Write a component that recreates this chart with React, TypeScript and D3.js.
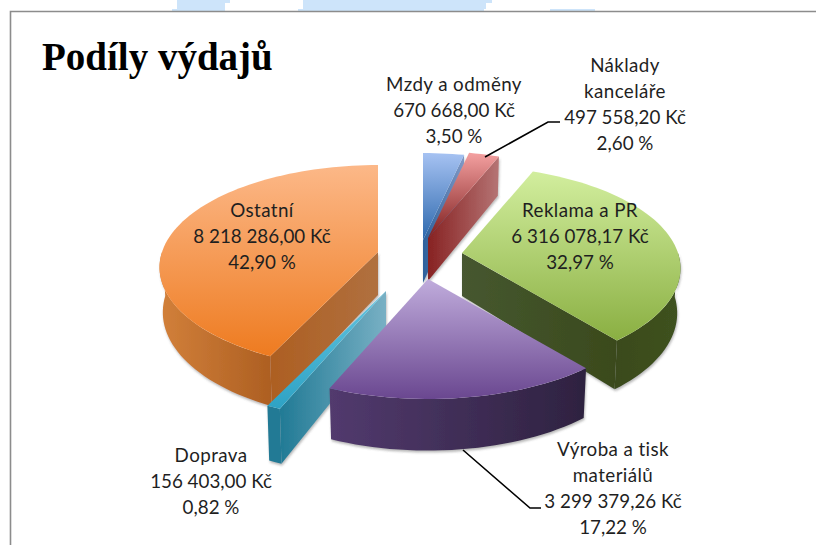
import React from "react";
import * as d3 from "d3";

const categories = ["Mzdy a odměny", "Náklady kanceláře", "Reklama a PR", "Výroba a tisk materiálů", "Doprava", "Ostatní"];
const values = [670668.0, 497558.2, 6316078.17, 3299379.26, 156403.0, 8218286.0];
const amountLabels = ["670 668,00 Kč", "497 558,20 Kč", "6 316 078,17 Kč", "3 299 379,26 Kč", "156 403,00 Kč", "8 218 286,00 Kč"];
const percentLabels = ["3,50 %", "2,60 %", "32,97 %", "17,22 %", "0,82 %", "42,90 %"];
const title = "Podíly výdajů";

// layout of each exploded slice (apex of the top face, perspective scale) and of its label
const apexes = [[423, 240], [428, 238], [462, 253], [428, 279], [386, 291], [378, 252]];
const scales = [1, 1, 1, 1.02, 1.1, 1];
const labelLines = [
  ["Mzdy a odměny"],
  ["Náklady", "kanceláře"],
  ["Reklama a PR"],
  ["Výroba a tisk", "materiálů"],
  ["Doprava"],
  ["Ostatní"],
];
const labelPos = [[454, 84], [625, 65], [580, 210], [613, 449], [211, 455], [262, 210]];
const topColors = [["#a6c2f2", "#2c68ad"], ["#f4a0a0", "#7e1e1e"], ["#d2ee9e", "#8aaf42"], ["#c0acdc", "#6a4790"], ["#62c4e0", "#2ea2c4"], ["#fcb888", "#ee7b20"]];
const wallColors = [["#2c609c", "#7f98c4"], ["#872222", "#b57474"], ["#465730", "#3a4a1c"], ["#523a6e", "#2e2240"], ["#217a95", "#78b0c4"], ["#ad5f22", "#b0703f"]];
const arcWallColors = [["#2c609c", "#2c609c"], ["#872222", "#872222"], ["#3a4a1c", "#3f5220"], ["#523a6e", "#2e2240"], ["#217a95", "#217a95"], ["#d2803a", "#ad5f22"]];
const drawOrder = [5, 0, 1, 2, 4, 3];

const RX = 216, RY = 100, K = 0.15, DEPTH = 44, NARROW = 0.015;
const rad = (d: number) => (d * Math.PI) / 180;

type P = [number, number];
const project = (i: number, t: number, z: number): P => {
  const den = 1 + K * Math.cos(t);
  const [ax, ay] = apexes[i];
  const s = scales[i];
  return [
    ax + (s * RX * (1 - NARROW * z) * Math.sin(t)) / den,
    ay - (s * RY * Math.cos(t)) / den + (s * z * DEPTH) / (1 + 0.13 * Math.cos(t)),
  ];
};
const apexAt = (i: number, z: number): P => [apexes[i][0], apexes[i][1] + z * 43];

const line = d3.line<P>();
const sample = (a: number, b: number) => {
  const n = Math.max(2, Math.ceil((b - a) / rad(2)));
  return d3.range(n + 1).map((j) => a + ((b - a) * j) / n);
};

const arcs = d3.pie<number>().sort(null).startAngle(0).endAngle(2 * Math.PI)(values);

function Slice({ i }: { i: number }) {
  const s = arcs[i];
  const a0 = s.startAngle, a1 = s.endAngle;
  const top = sample(a0, a1).map((a) => project(i, a, 0));
  const topPath = line([apexAt(i, 0), ...top]) + "Z";
  const walls: React.ReactNode[] = [];
  const edge = a0 > Math.PI ? a0 : a1 < Math.PI ? a1 : null;
  if (edge !== null) {
    const d = line([apexAt(i, 0), project(i, edge, 0), project(i, edge, 1), apexAt(i, 1)]) + "Z";
    walls.push(<path key="r" d={d} fill={`url(#wall${i})`} />);
  }
  const lo = Math.max(a0, rad(90)), hi = Math.min(a1, rad(270));
  if (hi > lo) {
    const pts = sample(lo, hi);
    const d = line([...pts.map((a) => project(i, a, 0)), ...pts.slice().reverse().map((a) => project(i, a, 1))]) + "Z";
    walls.push(<path key="o" d={d} fill={`url(#arc${i})`} />);
  }
  return (
    <g>
      <g filter="url(#shade)">{walls}</g>
      <path d={topPath} fill={`url(#top${i})`} />
    </g>
  );
}

const Grad = ({ id, c, vertical }: { id: string; c: string[]; vertical?: boolean }) => (
  <linearGradient id={id} x1="0" y1="0" x2={vertical ? 0 : 1} y2={vertical ? 1 : 0}>
    <stop offset="0" stopColor={c[0]} />
    <stop offset="1" stopColor={c[1]} />
  </linearGradient>
);

export default function App() {
  const font = "Lato, 'Open Sans', sans-serif";
  return (
    <svg width={816} height={545} style={{ position: "fixed", left: 0, top: 0 }}>
      <defs>
        {values.map((_, i) => (
          <React.Fragment key={i}>
            <Grad id={`top${i}`} c={topColors[i]} vertical />
            <Grad id={`wall${i}`} c={wallColors[i]} />
            <Grad id={`arc${i}`} c={arcWallColors[i]} />
          </React.Fragment>
        ))}
        <filter id="shade" x="-10%" y="-10%" width="125%" height="125%">
          <feDropShadow dx="0.8" dy="2" stdDeviation="1.2" floodColor="#555" floodOpacity="0.4" />
        </filter>
      </defs>
      <rect width={816} height={545} fill="#fff" />
      <g fill="#cde4fa">
        <path d="M177 0H230V3H225V11H172V9H177Z" />
        <path d="M303 0H492V3H486V9H484V11H298V9H303Z" />
        <path d="M550 9H595V11H550Z" />
      </g>
      <path d="M10.5 545V11.5H816" fill="none" stroke="#8c8c8c" strokeWidth={1.6} />
      <text x={42} y={70} fontFamily="'Liberation Serif', serif" fontWeight={700} fontSize={39} fill="#000">{title}</text>
      {drawOrder.map((i) => <Slice key={i} i={i} />)}
      <path d="M485 157L548 122H560" fill="none" stroke="#000" strokeWidth={1.6} />
      <path d="M463 450L530 508H541" fill="none" stroke="#000" strokeWidth={1.6} />
      {categories.map((c, i) => {
        const names = labelLines[i];
        const lines = [...names, amountLabels[i], percentLabels[i]];
        return (
          <text key={c} fontFamily={font} fontSize={18.8} fill="#1f1f1f" textAnchor="middle">
            {lines.map((t, j) => (
              <tspan key={j} x={labelPos[i][0]} y={labelPos[i][1] + 6.5 + j * 26} letterSpacing={j < names.length ? 0.4 : 0}>{t}</tspan>
            ))}
          </text>
        );
      })}
    </svg>
  );
}
